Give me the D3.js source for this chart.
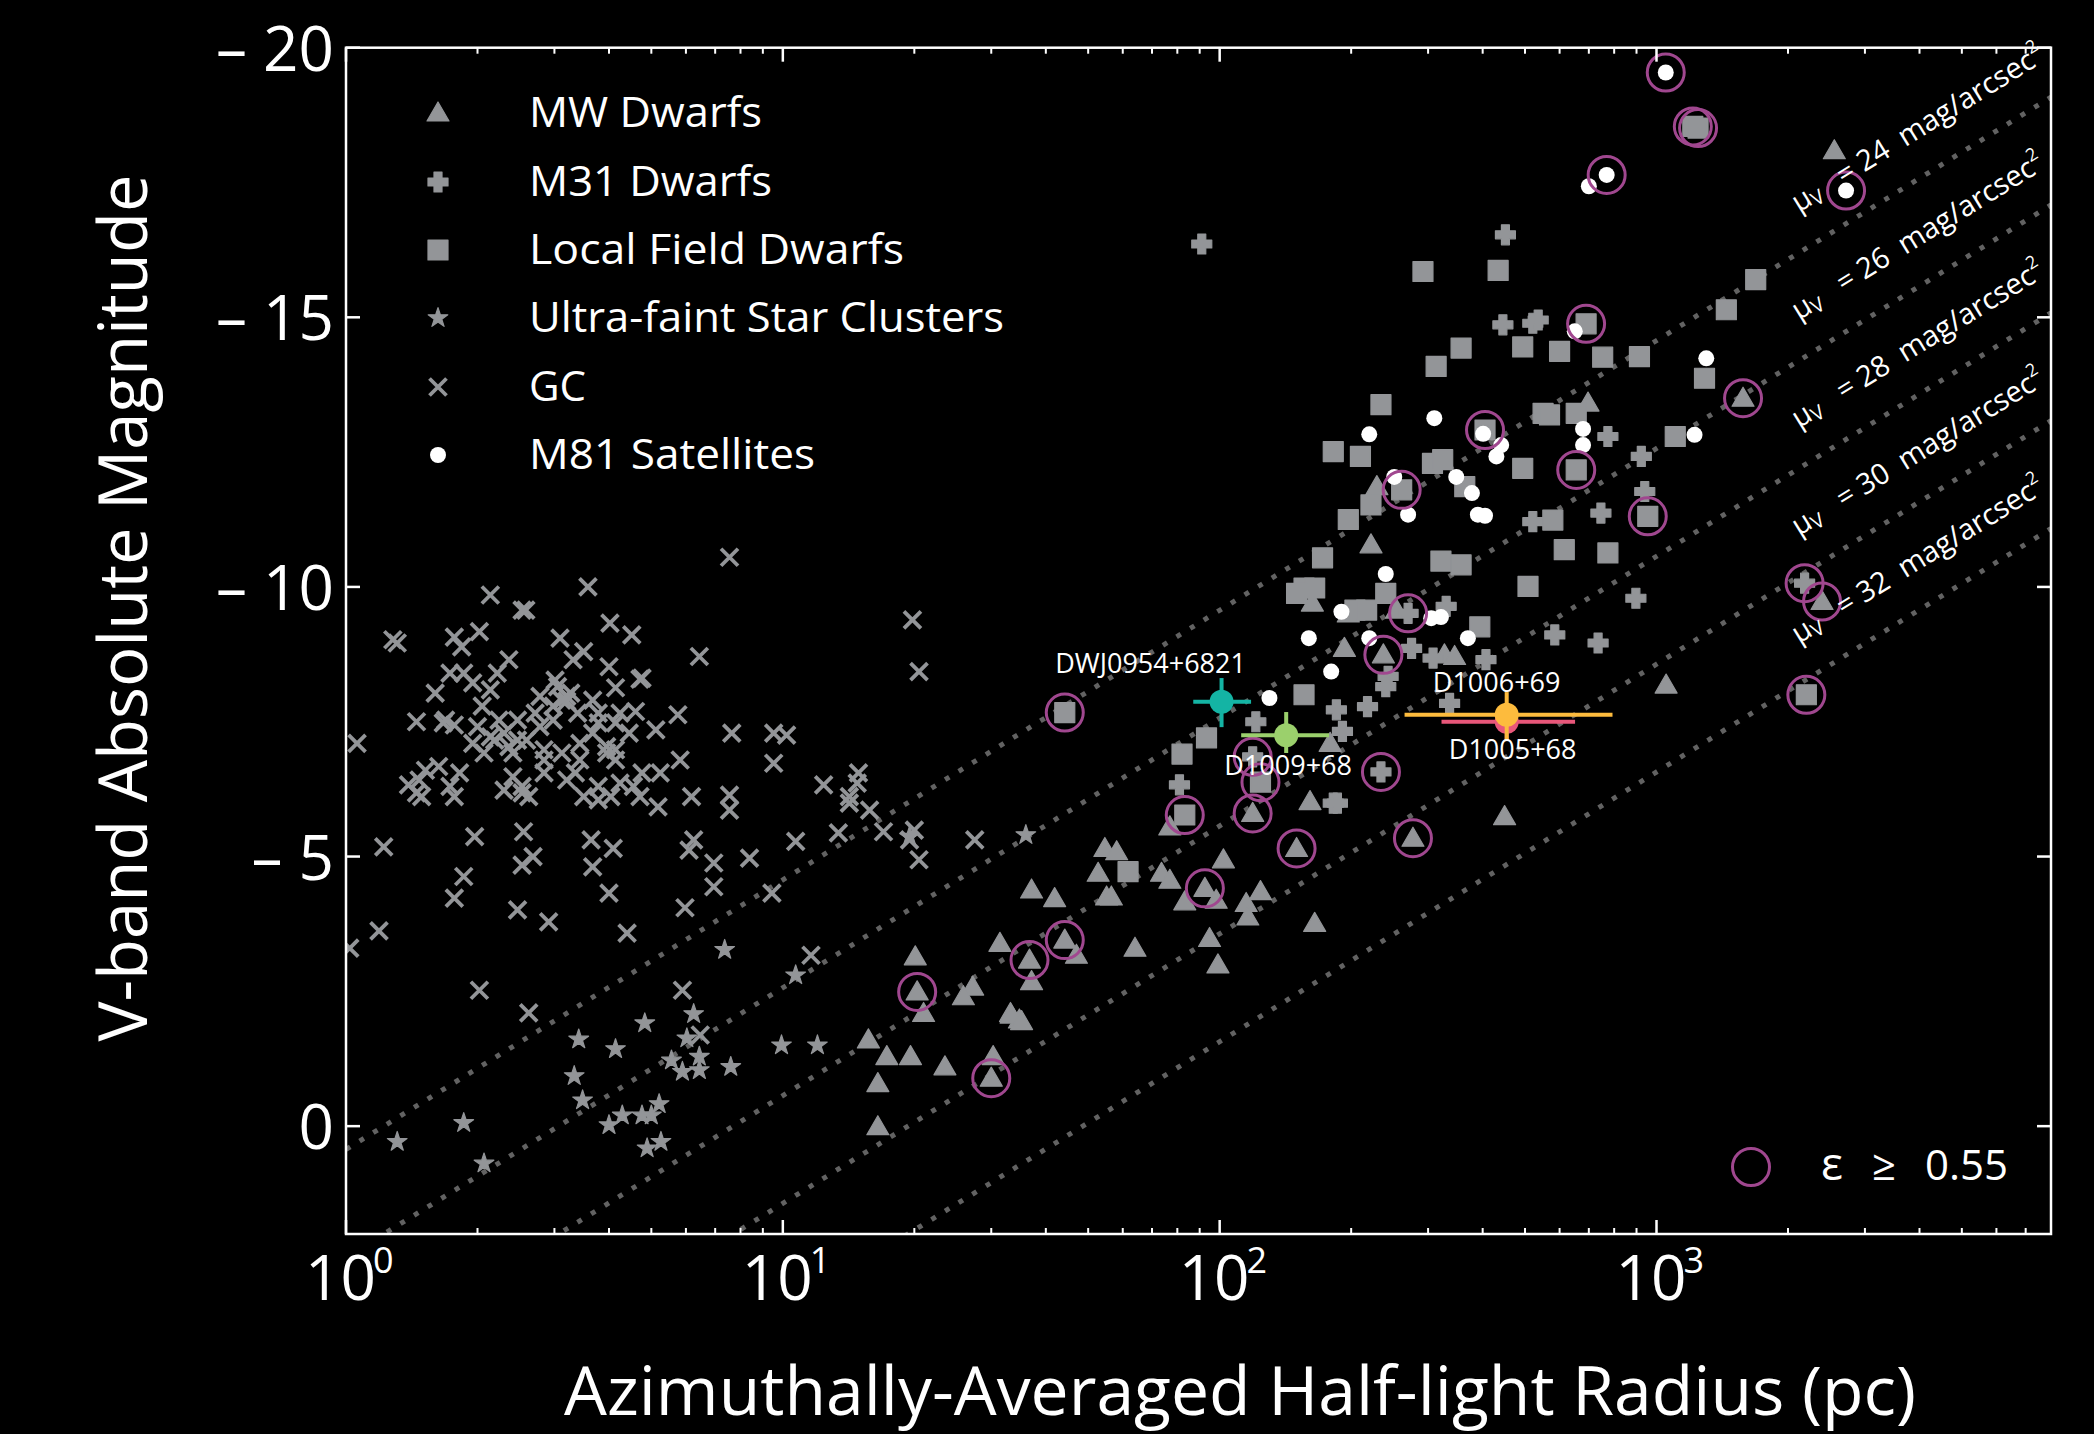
<!DOCTYPE html>
<html>
<head>
<meta charset="utf-8">
<script src="https://cdn.jsdelivr.net/npm/d3@7"></script>
<style>
  html, body { margin: 0; padding: 0; background: #000; }
  svg { display: block; }
  text { font-family: "Open Sans", "Noto Sans", sans-serif; }
</style>
</head>
<body>
<svg id="chart"></svg>
<script>
// ---- data: half-light radius (pc), absolute V magnitude ----
const gcData = [
  [7.55,-10.55],[2.14,-9.85],[3.58,-10.0],[2.53,-9.57],[2.58,-9.57],[1.31,-8.96],[1.28,-9.02],[1.77,-9.07],[2.02,-9.17],[1.84,-8.89],
  [4.02,-9.33],[4.51,-9.11],[3.09,-9.05],[6.44,-8.71],[2.36,-8.65],[3.50,-8.80],[3.31,-8.65],[4.00,-8.52],[1.73,-8.40],[1.86,-8.40],
  [1.95,-8.22],[2.22,-8.40],[4.71,-8.29],[4.76,-8.31],[1.60,-8.03],[2.14,-8.09],[4.14,-8.13],[3.05,-8.15],[3.20,-7.97],[2.78,-7.97],
  [3.67,-7.90],[1.45,-7.50],[1.67,-7.48],[1.77,-7.44],[2.05,-7.79],[2.24,-7.53],[2.47,-7.53],[2.71,-7.66],[2.98,-7.79],[3.20,-7.88],
  [3.39,-7.66],[3.78,-7.66],[4.14,-7.48],[4.60,-7.69],[5.12,-7.35],[5.75,-7.63],[7.64,-7.29],[9.53,-7.29],[10.2,-7.25],[1.06,-7.10],
  [1.95,-7.10],[2.19,-7.16],[2.36,-7.04],[2.59,-7.16],[2.84,-6.98],[3.12,-6.92],[3.43,-7.10],[3.95,-6.92],[4.14,-6.79],[4.45,-7.29],
  [3.67,-7.29],[5.82,-6.79],[9.53,-6.73],[1.52,-6.60],[1.63,-6.67],[1.39,-6.33],[1.45,-6.18],[1.49,-6.11],[1.73,-6.30],[1.77,-6.11],
  [2.30,-6.23],[2.53,-6.18],[2.62,-6.11],[2.41,-6.48],[2.84,-6.55],[3.20,-6.42],[3.50,-6.11],[3.78,-6.05],[4.04,-6.11],[4.24,-6.36],
  [4.71,-6.11],[5.18,-5.92],[5.24,-6.55],[6.18,-6.11],[7.55,-6.14],[7.55,-5.86],[12.4,-6.33],[14.9,-6.55],[14.8,-6.36],[14.2,-5.99],
  [15.8,-5.86],[13.4,-5.44],[17.0,-5.46],[20.0,-5.49],[19.5,-5.31],[20.5,-4.94],[27.5,-5.31],[19.8,-9.39],[20.5,-8.43],[1.22,-5.18],
  [1.97,-5.37],[2.55,-5.46],[2.68,-5.00],[2.53,-4.84],[3.64,-5.31],[4.09,-5.15],[3.67,-4.81],[6.25,-5.31],[6.10,-5.12],[6.95,-4.88],
  [8.39,-4.97],[10.7,-5.28],[1.86,-4.63],[1.77,-4.23],[2.47,-4.01],[2.91,-3.79],[4.00,-4.32],[6.95,-4.44],[5.97,-4.05],[4.40,-3.58],
  [9.44,-4.32],[1.19,-3.62],[1.02,-3.30],[11.6,-3.17],[2.02,-2.52],[5.89,-2.52],[2.62,-2.10],[3.01,-8.27],[3.12,-7.90],[3.27,-8.03],
  [2.98,-7.53],[2.78,-7.41],[2.14,-7.22],[2.30,-7.29],[2.47,-7.16],[2.41,-6.92],[2.84,-6.79],[3.43,-6.79],[3.95,-7.04],[4.14,-6.98],
  [4.76,-6.55],[2.53,-6.30],[3.35,-6.55],[3.78,-6.30],[4.55,-6.30],[1.47,-6.42],[1.69,-7.53],[1.82,-6.55],[2.07,-6.92],[2.00,-7.41],
  [4.24,-7.66],[3.78,-7.48],[14.2,-6.11],[6.47,-1.69]
];

const ufscData = [
  [1.31,0.29],[1.86,-0.06],[2.07,0.69],[3.41,-1.61],[4.14,-1.43],[3.33,-0.93],[3.48,-0.48],[4.83,-1.91],[6.25,-2.08],[6.03,-1.63],
  [5.56,-1.22],[5.89,-1.01],[6.44,-1.29],[6.44,-1.04],[7.60,-1.10],[9.93,-1.50],[12.0,-1.50],[4.29,-0.20],[4.00,-0.02],[4.76,-0.20],
  [5.00,-0.20],[5.21,-0.41],[4.89,0.41],[5.26,0.29],[7.36,-3.27],[10.7,-2.80],[36.0,-5.40],[19.5,-5.37]
];

const mwData = [
  [20.1,-3.14],[20.3,-2.49],[21.0,-2.09],[15.7,-1.60],[17.3,-1.29],[19.6,-1.29],[16.5,-0.79],[16.5,0.01],[23.5,-1.10],[27.2,-2.58],
  [25.9,-2.40],[30.3,-1.29],[30.0,-0.89],[33.2,-2.09],[34.8,-1.97],[31.4,-3.39],[36.7,-3.08],[44.2,-3.45],[47.0,-3.17],[37.1,-4.38],
  [41.9,-4.22],[37.1,-2.68],[33.3,-2.06],[35.2,-1.94],[64.0,-3.30],[54.6,-5.15],[58.1,-5.09],[52.7,-4.69],[55.1,-4.25],[56.5,-4.25],
  [76.9,-5.55],[73.6,-4.69],[76.9,-4.56],[83.2,-4.16],[92.5,-4.41],[98.2,-4.19],[102,-4.94],[94.8,-3.48],[99.1,-2.99],[115,-4.13],
  [116,-3.88],[124,-4.35],[119,-5.80],[150,-5.15],[161,-6.02],[179,-7.10],[165,-3.76],[277,-5.34],[449,-5.74],[229,-11.86],
  [222,-10.78],[163,-9.70],[193,-8.86],[237,-8.74],[327,-8.74],[345,-8.71],[1052,-8.18],[697,-13.41],[254,-9.57],[1578,-13.50],
  [2553,-18.09],[2393,-9.73],[197,-9.50]
];

const m31Data = [
  [80.9,-6.33],[121,-7.50],[185,-7.72],[218,-7.78],[191,-7.32],[182,-5.99],[186,-5.99],[234,-6.57],[336,-7.84],[243,-8.34],
  [240,-8.15],[275,-8.86],[270,-9.51],[330,-9.64],[308,-8.68],[407,-8.65],[585,-9.11],[735,-8.96],[897,-9.79],[521,-11.21],
  [746,-11.37],[940,-11.77],[923,-12.42],[774,-12.79],[451,-16.53],[445,-14.86],[521,-14.89],[536,-14.95],[2183,-10.07],[91.0,-16.36],
  [119,-6.85]
];

const localFieldData = [
  [44.2,-7.67],[82.0,-6.90],[93.3,-7.20],[83.2,-5.77],[61.7,-4.72],[234,-13.38],[182,-12.51],[210,-12.42],[261,-11.80],[222,-11.52],
  [197,-11.25],[307,-12.29],[324,-12.36],[364,-11.86],[405,-12.91],[494,-12.20],[550,-13.22],[569,-13.19],[655,-13.22],[655,-12.17],
  [955,-11.31],[579,-11.24],[615,-10.69],[774,-10.63],[321,-10.48],[357,-10.41],[508,-10.01],[172,-10.54],[156,-9.98],[165,-9.98],
  [204,-9.57],[217,-9.57],[240,-9.88],[394,-9.26],[156,-8.00],[1211,-18.54],[1245,-18.51],[292,-15.85],[434,-15.87],[357,-14.43],
  [313,-14.09],[494,-14.45],[600,-14.37],[690,-14.88],[753,-14.26],[914,-14.27],[1288,-13.87],[1445,-15.14],[1687,-15.70],[1104,-12.79],
  [2203,-8.00],[124,-6.38],[150,-9.88]
];

const m81Data = [
  [310,-13.13],[220,-12.83],[401,-12.84],[441,-12.63],[430,-12.42],[679,-12.93],[679,-12.63],[251,-12.04],[348,-12.04],[378,-11.74],
  [270,-11.34],[390,-11.34],[405,-11.32],[240,-10.24],[190,-9.54],[160,-9.05],[220,-9.05],[305,-9.42],[321,-9.44],[370,-9.05],
  [180,-8.43],[130,-7.94],[1050,-19.54],[769,-17.64],[700,-17.43],[1300,-14.24],[1222,-12.82],[650,-14.74],[2716,-17.35]
];

// objects with ellipticity >= 0.55
const highEllipticity = [
  [1050,-19.54],[1211,-18.54],[1245,-18.51],[769,-17.64],[2716,-17.35],[690,-14.88],[405,-12.91],[261,-11.80],[655,-12.17],[955,-11.31],
  [1578,-13.50],[270,-9.51],[237,-8.74],[44.2,-7.67],[83.2,-5.77],[119,-6.85],[124,-6.38],[119,-5.80],[150,-5.15],[234,-6.57],
  [277,-5.34],[92.5,-4.41],[44.2,-3.45],[36.7,-3.08],[20.3,-2.49],[30.0,-0.89],[2183,-10.07],[2393,-9.73],[2203,-8.00]
];

// new candidates with error bars
const newNames = ["DWJ0954+6821", "D1009+68", "D1005+68", "D1006+69"];
const newR     = [101, 142, 454, 454];
const newM     = [-7.87, -7.25, -7.50, -7.63];
const newRLo   = [87, 112, 322, 265];
const newRHi   = [118, 178, 651, 793];
const newMLo   = [-8.31, -7.68, -7.85, -8.05];
const newMHi   = [-7.40, -6.92, -7.15, -7.16];

const muLevels = [24, 26, 28, 30, 32];
const yTickValues = [-20, -15, -10, -5, 0];
const xTickExponents = [0, 1, 2, 3];
const legendNames = ["MW Dwarfs", "M31 Dwarfs", "Local Field Dwarfs", "Ultra-faint Star Clusters", "GC", "M81 Satellites"];

// ---- styles ----
const GRAY = "#939598";
const RING = "#a0478f";
const newColors = ["#14b4a4", "#9bd06c", "#e8577a", "#fdbb3d"];

const W = 2094, H = 1434;
const svg = d3.select("#chart").attr("width", W).attr("height", H)
  .attr("viewBox", `0 0 ${W} ${H}`).style("background", "#000");
svg.append("rect").attr("width", W).attr("height", H).attr("fill", "#000");

const x = d3.scaleLog().domain([1, 8000]).range([346, 2051]);
const y = d3.scaleLinear().domain([2, -20]).range([1234, 47.7]);
const [X0, X1] = x.range();
const [YB, YT] = y.range();

svg.append("defs").append("clipPath").attr("id", "plotClip")
  .append("rect").attr("x", X0).attr("y", YT).attr("width", X1 - X0).attr("height", YB - YT);

// surface brightness: mu = M + 21.572 + 2.5 log10(2 pi r^2), r in pc
const ZP = 21.572 + 2.5 * Math.log10(2 * Math.PI);
const magAt = (mu, r) => mu - ZP - 5 * Math.log10(r);

const plot = svg.append("g").attr("clip-path", "url(#plotClip)");

// dotted iso-surface-brightness lines
const [rMin, rMax] = x.domain();
plot.append("g").selectAll("line").data(muLevels).join("line")
  .attr("x1", x(rMin)).attr("y1", d => y(magAt(d, rMin)))
  .attr("x2", x(rMax)).attr("y2", d => y(magAt(d, rMax)))
  .attr("stroke", "#626262").attr("stroke-width", 5)
  .attr("stroke-dasharray", "5 11");

// labels along the lines
const angle = Math.atan2(y(-5) - y(0), x(10) - x(1)) * 180 / Math.PI;
const labX = 1799;
const labG = svg.append("g");
muLevels.forEach(mu => {
  const py = y(magAt(mu, x.invert(labX)));
  const t = labG.append("text")
    .attr("transform", `translate(${labX},${py - 40}) rotate(${angle})`)
    .attr("fill", "#fff").attr("font-size", 29).style("white-space", "pre");
  t.append("tspan").text("\u03bc");
  t.append("tspan").attr("font-size", 20).attr("dy", 4).text("V");
  t.append("tspan").attr("dy", -4).text(`   = ${mu}  mag/arcsec`);
  t.append("tspan").attr("font-size", 18).attr("dy", -13).text("2");
});

// ---- marker shapes ----
const triPath = "M0,-11L11,8L-11,8Z";
const sqPath = "M-10,-10H10V10H-10Z";
const plusPath = "M-4,-10H4V-4H10V4H4V10H-4V4H-10V-4H-4Z";
const starPath = d3.symbol(d3.symbolStar, 120)();
const xPath = "M-8.5,-8.5L8.5,8.5M-8.5,8.5L8.5,-8.5";

function drawShape(sel, path, kind) {
  if (kind === "x") {
    sel.attr("d", path).attr("fill", "none").attr("stroke", GRAY).attr("stroke-width", 3.8);
  } else {
    sel.attr("d", path).attr("fill", GRAY).attr("stroke", GRAY)
      .attr("stroke-width", 1.2).attr("stroke-linejoin", "round");
  }
}

function series(data, path, kind) {
  const s = plot.append("g").selectAll("path").data(data).join("path")
    .attr("transform", d => `translate(${x(d[0])},${y(d[1])})`);
  drawShape(s, path, kind);
}

series(gcData, xPath, "x");
series(ufscData, starPath, "fill");
series(mwData, triPath, "fill");
series(m31Data, plusPath, "fill");
series(localFieldData, sqPath, "fill");

plot.append("g").selectAll("circle").data(m81Data).join("circle")
  .attr("cx", d => x(d[0])).attr("cy", d => y(d[1])).attr("r", 8).attr("fill", "#fff");

plot.append("g").selectAll("circle").data(highEllipticity).join("circle")
  .attr("cx", d => x(d[0])).attr("cy", d => y(d[1])).attr("r", 18.5)
  .attr("fill", "none").attr("stroke", RING).attr("stroke-width", 3);

// ---- new candidates ----
const nv = newNames.map((n, i) => ({
  name: n, r: newR[i], m: newM[i], rLo: newRLo[i], rHi: newRHi[i], mLo: newMLo[i], mHi: newMHi[i], color: newColors[i]
}));
const candG = svg.append("g");
nv.forEach(d => {
  candG.append("line").attr("x1", x(d.rLo)).attr("x2", x(d.rHi)).attr("y1", y(d.m)).attr("y2", y(d.m))
    .attr("stroke", d.color).attr("stroke-width", 4);
  candG.append("line").attr("x1", x(d.r)).attr("x2", x(d.r)).attr("y1", y(d.mLo)).attr("y2", y(d.mHi))
    .attr("stroke", d.color).attr("stroke-width", 4);
  candG.append("circle").attr("cx", x(d.r)).attr("cy", y(d.m)).attr("r", 12).attr("fill", d.color);
});
// label offsets relative to each marker
const labelOffset = {
  "DWJ0954+6821": [-71, -29],
  "D1009+68": [2, 40],
  "D1005+68": [6, 37],
  "D1006+69": [-10, -23]
};
nv.forEach(d => {
  const [dx, dy] = labelOffset[d.name];
  candG.append("text").attr("x", x(d.r) + dx).attr("y", y(d.m) + dy)
    .attr("text-anchor", "middle").attr("fill", "#fff").attr("font-size", 27).text(d.name);
});

// ---- frame and ticks ----
const axisG = svg.append("g").attr("stroke", "#fff").attr("stroke-width", 2.5);
axisG.append("rect").attr("x", X0).attr("y", YT).attr("width", X1 - X0).attr("height", YB - YT).attr("fill", "none");

const majorX = xTickExponents.map(e => Math.pow(10, e));
const minorX = [];
majorX.forEach(d => { for (let k = 2; k <= 9; k++) if (d * k <= rMax) minorX.push(d * k); });
majorX.forEach(v => {
  axisG.append("line").attr("x1", x(v)).attr("x2", x(v)).attr("y1", YB).attr("y2", YB - 14);
  axisG.append("line").attr("x1", x(v)).attr("x2", x(v)).attr("y1", YT).attr("y2", YT + 14);
});
minorX.forEach(v => {
  axisG.append("line").attr("x1", x(v)).attr("x2", x(v)).attr("y1", YB).attr("y2", YB - 6).attr("stroke-width", 2);
  axisG.append("line").attr("x1", x(v)).attr("x2", x(v)).attr("y1", YT).attr("y2", YT + 6).attr("stroke-width", 2);
});
yTickValues.forEach(v => {
  axisG.append("line").attr("x1", X0).attr("x2", X0 + 14).attr("y1", y(v)).attr("y2", y(v));
  axisG.append("line").attr("x1", X1).attr("x2", X1 - 14).attr("y1", y(v)).attr("y2", y(v));
});

// tick labels
const tickG = svg.append("g").attr("fill", "#fff");
yTickValues.forEach(v => {
  tickG.append("text").attr("x", 334).attr("y", y(v) + 23).attr("text-anchor", "end")
    .attr("font-size", 62).text(v < 0 ? `\u2013 ${Math.abs(v)}` : `${v}`);
});
xTickExponents.forEach(e => {
  const t = tickG.append("text").attr("x", x(Math.pow(10, e)) - 41).attr("y", 1300).attr("font-size", 62);
  t.append("tspan").text("10");
  t.append("tspan").attr("font-size", 36).attr("dx", -3).attr("dy", -27).text(String(e));
});

// axis titles
svg.append("text").attr("x", 1240).attr("y", 1415).attr("text-anchor", "middle")
  .attr("fill", "#fff").attr("font-size", 67)
  .attr("textLength", 1352).attr("lengthAdjust", "spacingAndGlyphs")
  .text("Azimuthally-Averaged Half-light Radius (pc)");
svg.append("text").attr("transform", "translate(147,608) rotate(-90)").attr("text-anchor", "middle")
  .attr("fill", "#fff").attr("font-size", 68)
  .attr("textLength", 867).attr("lengthAdjust", "spacingAndGlyphs")
  .text("V-band Absolute Magnitude");

// ---- legend ----
const legG = svg.append("g");
const legRows = [113, 182, 250, 318, 387, 455];
const legWidths = [233, 243, 375, 475, 57, 286];
const legShapes = [[triPath, "fill"], [plusPath, "fill"], [sqPath, "fill"], [starPath, "fill"], [xPath, "x"], [null, "dot"]];
legendNames.forEach((name, i) => {
  const cy = legRows[i];
  const [p, kind] = legShapes[i];
  if (kind === "dot") {
    legG.append("circle").attr("cx", 438).attr("cy", cy).attr("r", 8).attr("fill", "#fff");
  } else {
    drawShape(legG.append("path").attr("transform", `translate(438,${cy})`), p, kind);
  }
  legG.append("text").attr("x", 529).attr("y", cy + 14).attr("fill", "#fff").attr("font-size", 42)
    .attr("textLength", legWidths[i]).attr("lengthAdjust", "spacingAndGlyphs").text(name);
});

// ellipticity key
legG.append("circle").attr("cx", 1751).attr("cy", 1167).attr("r", 18.5)
  .attr("fill", "none").attr("stroke", RING).attr("stroke-width", 3);
legG.append("text").attr("x", 1821).attr("y", 1180).attr("fill", "#fff").attr("font-size", 46).text("\u03b5");
legG.append("text").attr("x", 1872).attr("y", 1180).attr("fill", "#fff").attr("font-size", 42).text("\u2265");
legG.append("text").attr("x", 1925).attr("y", 1180).attr("fill", "#fff").attr("font-size", 42).text("0.55");
</script>
</body>
</html>
